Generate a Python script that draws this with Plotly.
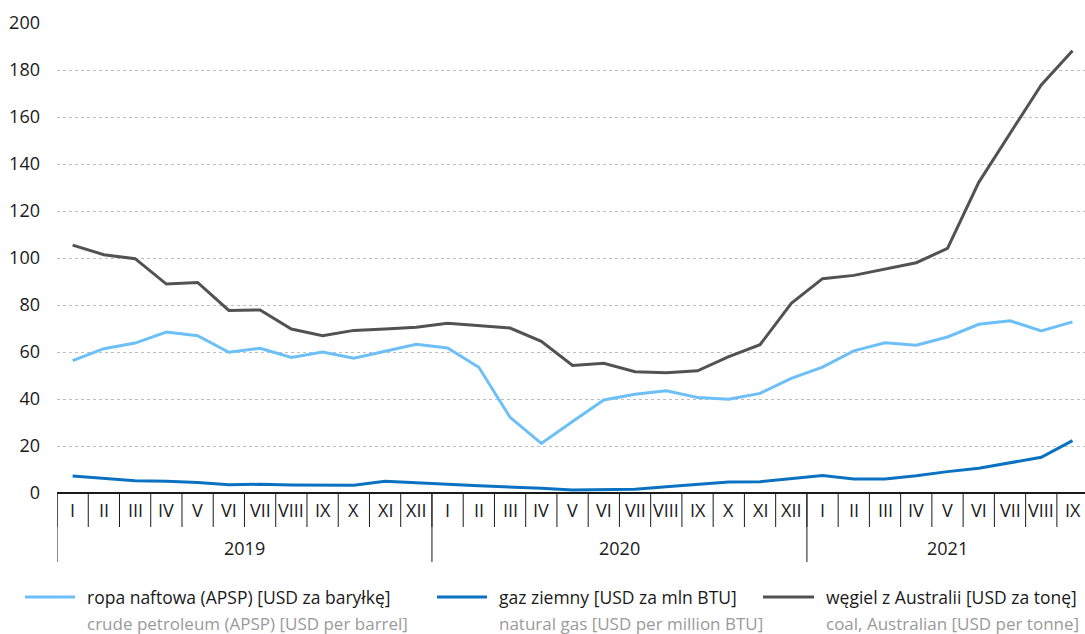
import plotly.graph_objects as go

# Monthly prices, 2019-I .. 2021-IX
months = ["I", "II", "III", "IV", "V", "VI", "VII", "VIII", "IX", "X", "XI", "XII",
          "I", "II", "III", "IV", "V", "VI", "VII", "VIII", "IX", "X", "XI", "XII",
          "I", "II", "III", "IV", "V", "VI", "VII", "VIII", "IX"]
years = ["2019", "2020", "2021"]
year_lengths = [12, 12, 9]

crude_oil = [56.3, 61.4, 63.8, 68.5, 66.9, 59.9, 61.6, 57.7, 60.0, 57.4, 60.3, 63.3,
             61.7, 53.5, 32.2, 21.1, 30.4, 39.6, 42.0, 43.5, 40.6, 39.9, 42.4, 48.8,
             53.6, 60.5, 63.9, 62.9, 66.4, 71.8, 73.3, 69.0, 72.8]
natural_gas = [7.2, 6.2, 5.2, 5.0, 4.5, 3.5, 3.7, 3.4, 3.3, 3.3, 5.0, 4.5,
               3.7, 3.1, 2.7, 2.0, 1.3, 1.6, 1.6, 2.7, 3.8, 4.7, 4.8, 6.0,
               7.4, 6.0, 6.0, 7.3, 9.1, 10.5, 12.9, 15.2, 22.3]
coal = [105.5, 101.4, 99.7, 88.9, 89.6, 77.7, 77.9, 69.8, 66.9, 69.2, 69.8, 70.5,
        72.2, 71.2, 70.2, 64.5, 54.3, 55.2, 51.6, 51.2, 52.0, 58.0, 63.1, 80.7,
        91.2, 92.6, 95.2, 98.0, 104.1, 132.2, 153.0, 173.6, 188.2]

y_ticks = [0, 20, 40, 60, 80, 100, 120, 140, 160, 180, 200]

series = [
    ("ropa naftowa (APSP) [USD za baryłkę]", "crude petroleum (APSP) [USD per barrel]", crude_oil, "#6cc0f7"),
    ("gaz ziemny [USD za mln BTU]", "natural gas [USD per million BTU]", natural_gas, "#0b72c2"),
    ("węgiel z Australii [USD za tonę]", "coal, Australian [USD per tonne]", coal, "#525252"),
]

FONT = "Open Sans"
W, H = 1085, 634
ML, MR, MT, MB = 57, 0, 23, 141
plot_h = H - MT - MB

def py(pixel_y):
    """Convert a pixel row to paper y coordinate."""
    return (H - MB - pixel_y) / plot_h

def px(pixel_x):
    return (pixel_x - ML) / (W - ML - MR)

x = list(range(len(months)))
fig = go.Figure()
for name, sub, vals, color in series:
    fig.add_trace(go.Scatter(x=x, y=vals, mode="lines", name=name,
                             line=dict(color=color, width=3), showlegend=False,
                             cliponaxis=False))

shapes = []
annotations = []

# month separators and labels
for k in range(len(months)):
    shapes.append(dict(type="line", xref="x", yref="paper", x0=k - 0.5, x1=k - 0.5,
                       y0=0, y1=py(527), line=dict(color="#1a1a1a", width=1)))
for k, m in enumerate(months):
    annotations.append(dict(x=k, y=py(510), xref="x", yref="paper", text=m,
                            showarrow=False, font=dict(family=FONT, size=18, color="#1a1a1a"),
                            xanchor="center", yanchor="middle"))

# year separators and labels
start = 0
for yr, n in zip(years, year_lengths):
    shapes.append(dict(type="line", xref="x", yref="paper", x0=start - 0.5, x1=start - 0.5,
                       y0=0, y1=py(562), line=dict(color="#1a1a1a", width=1)))
    annotations.append(dict(x=start + (n - 1) / 2, y=py(548), xref="x", yref="paper", text=yr,
                            showarrow=False, font=dict(family=FONT, size=18, color="#1a1a1a"),
                            xanchor="center", yanchor="middle"))
    start += n

# legend drawn below the axis
legend_pos = [(25, 75, 85), (437, 487, 497), (763, 814, 824)]
for (lx0, lx1, tx), (name, sub, vals, color) in zip(legend_pos, series):
    shapes.append(dict(type="line", xref="paper", yref="paper", x0=px(lx0), x1=px(lx1),
                       y0=py(597), y1=py(597), line=dict(color=color, width=3)))
    annotations.append(dict(x=px(tx), y=py(597), xref="paper", yref="paper", text=name,
                            showarrow=False, font=dict(family=FONT, size=17.5, color="#1a1a1a"),
                            xanchor="left", yanchor="middle"))
    annotations.append(dict(x=px(tx), y=py(623), xref="paper", yref="paper", text=sub,
                            showarrow=False, font=dict(family=FONT, size=17, color="#9a9a9a"),
                            xanchor="left", yanchor="middle"))

fig.update_layout(
    width=W, height=H,
    margin=dict(l=ML, r=MR, t=MT, b=MB),
    paper_bgcolor="white", plot_bgcolor="white",
    shapes=shapes, annotations=annotations,
    xaxis=dict(range=[-0.5, len(months) - 0.6], showgrid=False, zeroline=False,
               showticklabels=False, showline=False, fixedrange=True),
    yaxis=dict(range=[0, 200], tickvals=y_ticks, showgrid=True, gridcolor="#bdbdbd",
               griddash="dot", gridwidth=1, zeroline=True, zerolinecolor="#1a1a1a",
               zerolinewidth=1.5, showline=False, ticks="",
               tickfont=dict(family=FONT, size=18, color="#1a1a1a"),
               ticklabelstandoff=16, fixedrange=True),
)

fig.write_html("out.html")
